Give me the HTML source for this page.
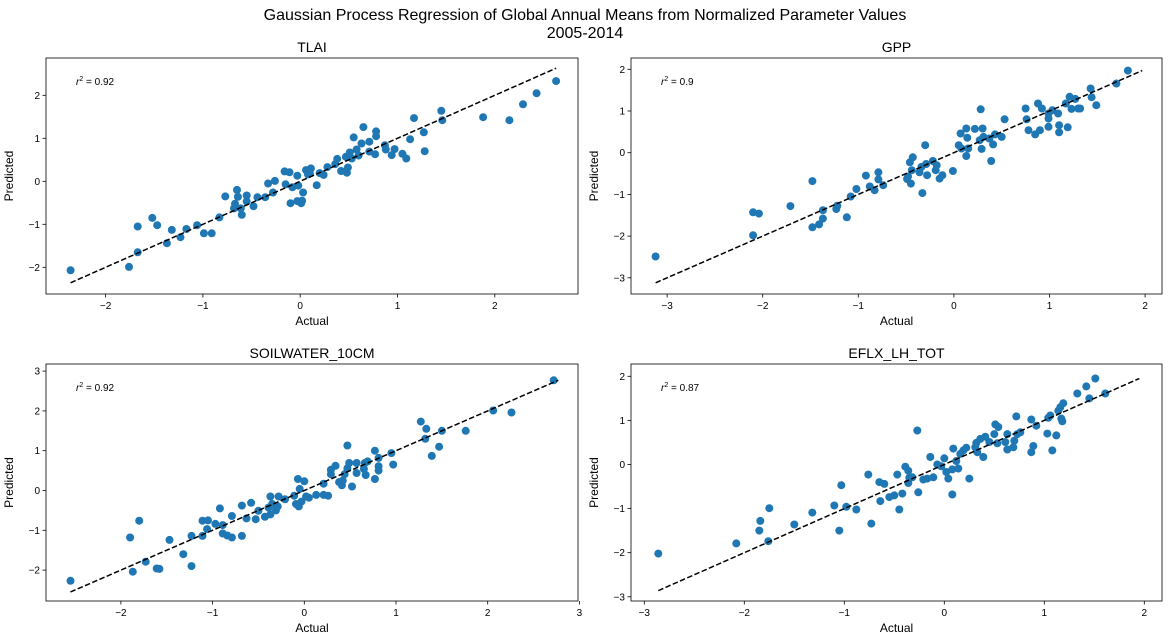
<!DOCTYPE html>
<html><head><meta charset="utf-8"><style>
html,body{margin:0;padding:0;background:#fff;}
svg{display:block;font-family:"Liberation Sans","DejaVu Sans",sans-serif;}
</style></head><body>
<svg id="fig" width="1169" height="642" viewBox="0 0 1169 642" xmlns="http://www.w3.org/2000/svg">
<text x="585" y="20" text-anchor="middle" font-size="16">Gaussian Process Regression of Global Annual Means from Normalized Parameter Values</text>
<text x="585" y="38" text-anchor="middle" font-size="16">2005-2014</text>
</svg>
<script>
const tlaiActual=[-2.36,-1.76,-1.67,-1.67,-1.52,-1.47,-1.37,-1.32,-1.23,-1.17,-1.06,-0.99,-0.91,-0.83,-0.77,-0.68,-0.67,-0.65,-0.64,-0.60,-0.61,-0.55,-0.55,-0.48,-0.44,-0.36,-0.33,-0.28,-0.26,-0.16,-0.11,-0.15,-0.10,-0.08,-0.03,-0.02,-0.03,0.01,0.02,0.03,0.06,0.08,0.11,0.10,0.17,0.20,0.24,0.28,0.36,0.38,0.42,0.48,0.49,0.47,0.51,0.53,0.55,0.58,0.60,0.63,0.65,0.71,0.71,0.77,0.78,0.78,0.87,0.88,0.94,0.97,1.05,1.09,1.13,1.17,1.27,1.28,1.45,1.46,1.88,2.15,2.29,2.43,2.63];
const tlaiPred=[-2.07,-1.99,-1.65,-1.05,-0.85,-1.02,-1.44,-1.13,-1.30,-1.11,-1.02,-1.21,-1.21,-0.84,-0.35,-0.63,-0.52,-0.20,-0.36,-0.78,-0.63,-0.33,-0.47,-0.58,-0.37,-0.37,-0.05,-0.26,0.01,0.23,0.21,-0.07,-0.51,-0.14,0.13,-0.10,-0.46,-0.51,-0.45,-0.26,0.26,0.16,0.30,0.18,-0.09,0.19,0.15,0.33,0.40,0.52,0.24,0.20,0.32,0.57,0.67,0.53,1.02,0.74,0.60,0.88,1.26,0.92,0.69,0.63,1.05,1.16,0.84,0.74,0.61,0.75,0.64,0.53,0.98,1.47,1.14,0.70,1.64,1.42,1.49,1.42,1.79,2.05,2.33];
const gppActual=[-3.12,-2.10,-2.10,-2.04,-1.71,-1.48,-1.48,-1.41,-1.37,-1.37,-1.23,-1.22,-1.12,-1.08,-1.02,-0.92,-0.88,-0.83,-0.79,-0.79,-0.74,-0.49,-0.48,-0.45,-0.46,-0.43,-0.44,-0.36,-0.34,-0.33,-0.30,-0.29,-0.28,-0.22,-0.19,-0.18,-0.15,-0.12,-0.01,0.05,0.07,0.08,0.13,0.13,0.14,0.15,0.22,0.28,0.27,0.29,0.30,0.31,0.37,0.39,0.41,0.43,0.50,0.53,0.75,0.76,0.78,0.85,0.88,0.90,0.92,0.99,0.99,0.99,1.03,1.09,1.10,1.10,1.17,1.19,1.21,1.23,1.27,1.30,1.32,1.43,1.44,1.49,1.70,1.82];
const gppPred=[-2.49,-1.98,-1.43,-1.46,-1.28,-0.68,-1.79,-1.72,-1.58,-1.38,-1.35,-1.27,-1.55,-1.05,-0.87,-0.55,-0.81,-0.90,-0.47,-0.64,-0.78,-0.63,-0.57,-0.74,-0.23,-0.11,-0.42,-0.47,-0.34,-0.97,0.18,-0.27,-0.54,-0.20,-0.42,-0.30,-0.62,-0.54,-0.44,0.18,0.46,0.10,-0.08,0.58,0.36,0.10,0.57,1.04,0.30,0.09,0.58,0.38,0.34,-0.20,0.20,0.44,0.38,0.80,1.06,0.80,0.54,0.44,1.18,0.54,1.06,0.82,0.94,0.62,1.02,0.94,0.66,0.49,1.18,0.61,1.34,1.05,1.29,1.06,1.06,1.54,1.33,1.14,1.66,1.97];
const soilActual=[-2.55,-1.90,-1.87,-1.80,-1.73,-1.61,-1.58,-1.47,-1.32,-1.23,-1.23,-1.11,-1.11,-1.06,-1.05,-0.97,-0.92,-0.89,-0.89,-0.84,-0.79,-0.79,-0.68,-0.68,-0.63,-0.58,-0.53,-0.50,-0.43,-0.39,-0.37,-0.37,-0.35,-0.31,-0.29,-0.28,-0.21,-0.11,-0.09,-0.07,-0.06,-0.05,-0.03,0.00,0.02,0.05,0.13,0.21,0.21,0.26,0.29,0.29,0.34,0.38,0.41,0.42,0.44,0.47,0.47,0.49,0.52,0.57,0.57,0.65,0.66,0.67,0.69,0.77,0.77,0.81,0.81,0.81,0.95,0.97,1.27,1.32,1.33,1.39,1.47,1.50,1.76,2.06,2.26,2.72];
const soilPred=[-2.27,-1.18,-2.04,-0.76,-1.79,-1.96,-1.97,-1.24,-1.60,-1.90,-1.14,-0.76,-1.14,-0.97,-0.75,-0.84,-0.45,-0.87,-1.08,-1.13,-0.64,-1.18,-0.38,-1.14,-0.70,-0.31,-0.72,-0.51,-0.66,-0.43,-0.15,-0.60,-0.34,-0.50,-0.40,-0.15,-0.22,-0.13,-0.34,0.29,-0.40,0.04,-0.28,0.23,-0.15,-0.18,-0.11,0.17,-0.11,-0.13,0.52,0.41,0.62,0.21,0.13,0.25,0.41,1.13,0.56,0.69,0.10,0.44,0.69,0.54,0.69,0.39,0.73,1.00,0.29,0.82,0.50,0.61,0.94,0.65,1.73,1.30,1.55,0.87,1.10,1.50,1.50,2.01,1.96,2.77];
const eflxActual=[-2.86,-2.08,-1.85,-1.84,-1.76,-1.75,-1.50,-1.32,-1.10,-1.05,-1.03,-0.98,-0.88,-0.76,-0.73,-0.65,-0.64,-0.60,-0.55,-0.50,-0.47,-0.45,-0.42,-0.39,-0.36,-0.36,-0.35,-0.32,-0.27,-0.26,-0.21,-0.17,-0.14,-0.11,-0.07,-0.03,0.00,0.02,0.04,0.08,0.08,0.09,0.12,0.14,0.16,0.19,0.22,0.25,0.31,0.32,0.33,0.36,0.39,0.41,0.45,0.50,0.51,0.54,0.53,0.61,0.63,0.63,0.69,0.70,0.72,0.73,0.76,0.87,0.87,0.89,0.92,1.03,1.04,1.06,1.08,1.12,1.14,1.16,1.17,1.18,1.19,1.33,1.42,1.45,1.51,1.61];
const eflxPred=[-2.02,-1.79,-1.50,-1.28,-1.74,-0.99,-1.36,-1.09,-0.93,-1.50,-0.47,-0.96,-1.02,-0.23,-1.34,-0.40,-0.83,-0.44,-0.74,-0.70,-0.23,-1.02,-0.66,-0.05,-0.14,-0.42,-0.30,-0.29,0.77,-0.63,-0.34,-0.32,0.17,-0.29,0.00,-0.04,0.14,-0.17,-0.32,-0.11,-0.68,0.36,0.08,-0.09,0.24,0.32,0.38,-0.32,0.39,0.49,0.28,0.58,0.17,0.63,0.51,0.69,0.91,0.85,0.48,0.51,0.69,0.34,0.39,0.54,1.09,0.69,0.73,1.02,0.28,0.42,0.88,0.70,1.06,1.11,0.32,0.66,1.22,1.30,1.04,0.98,1.39,1.61,1.77,1.50,1.95,1.61];
const panelTitles=["TLAI","GPP","SOILWATER_10CM","EFLX_LH_TOT"];
const r2Labels=["0.92","0.9","0.92","0.87"];
const xTicks=[[-2,-1,0,1,2],[-3,-2,-1,0,1,2],[-2,-1,0,1,2,3],[-3,-2,-1,0,1,2]];
const yTicks=[[-2,-1,0,1,2],[-3,-2,-1,0,1,2],[-2,-1,0,1,2,3],[-3,-2,-1,0,1,2]];

const NS="http://www.w3.org/2000/svg";
const svg=document.getElementById('fig');
const layouts=[
 {l:46,r:578,t:58,b:294,x0:300.2,xu:97.3,y0:181.3,yu:43.0},
 {l:631,r:1162,t:58,b:294,x0:953.9,xu:95.6,y0:152.7,yu:41.7},
 {l:46,r:578,t:364,b:601,x0:304.3,xu:91.7,y0:490.5,yu:39.8},
 {l:631,r:1162,t:364,b:601,x0:944.3,xu:100,y0:464.5,yu:44.1}
];
const datasets=[[tlaiActual,tlaiPred],[gppActual,gppPred],[soilActual,soilPred],[eflxActual,eflxPred]];
const keys=["tlai","gpp","soilwater","eflx"];
function mk(tag,attrs,parent){const e=document.createElementNS(NS,tag);for(const k in attrs)e.setAttribute(k,attrs[k]);(parent||svg).appendChild(e);return e;}
layouts.forEach((L,i)=>{
 const g=mk('g',{});
 
 
 const xs=v=>L.x0+v*L.xu, ys=v=>L.y0-v*L.yu;
 const [act,pred]=datasets[i];
 const lo=Math.min(...act,...pred), hi=Math.max(...act,...pred);
 const pts=mk('g',{fill:'#1f77b4'},g);
 
 
 act.forEach((a,j)=>{
  const c=mk('circle',{cx:xs(a).toFixed(1),cy:ys(pred[j]).toFixed(1),r:4},pts);
  
  
 });
 const ln=mk('line',{x1:xs(lo),y1:ys(lo),x2:xs(hi),y2:ys(hi),stroke:'#000','stroke-width':1.5,'stroke-dasharray':'5.5,2.4'},g);
 
 
 const fr=mk('rect',{x:L.l,y:L.t,width:L.r-L.l,height:L.b-L.t,fill:'none',stroke:'#000','stroke-width':0.8},g);
 
 
 xTicks[i].forEach(v=>{
  const x=xs(v);
  mk('line',{x1:x,y1:L.b,x2:x,y2:L.b+3.5,stroke:'#000','stroke-width':0.8},g);
  const t=mk('text',{x:x,y:L.b+15,'text-anchor':'middle','font-size':10},g);
  t.textContent=v<0?'\u2212'+(-v):String(v);
  
  
 });
 yTicks[i].forEach(v=>{
  const y=ys(v);
  mk('line',{x1:L.l-3.5,y1:y,x2:L.l,y2:y,stroke:'#000','stroke-width':0.8},g);
  const t=mk('text',{x:L.l-6,y:y+3.5,'text-anchor':'end','font-size':10},g);
  t.textContent=v<0?'\u2212'+(-v):String(v);
  
  
 });
 const tt=mk('text',{x:(L.l+L.r)/2,y:L.t-6,'text-anchor':'middle','font-size':14},g);
 tt.textContent=panelTitles[i];
 
 
 const xl=mk('text',{x:(L.l+L.r)/2,y:L.b+31,'text-anchor':'middle','font-size':12},g);
 xl.textContent='Actual';
 
 
 const yc=(L.t+L.b)/2, yx=L.l-33;
 const yl=mk('text',{x:yx,y:yc,'text-anchor':'middle','font-size':12,transform:`rotate(-90 ${yx} ${yc})`},g);
 yl.textContent='Predicted';
 
 
 const r2=mk('text',{x:L.l+30,y:L.t+27,'font-size':10},g);
 r2.innerHTML='<tspan font-style="italic">r</tspan><tspan dy="-4" font-size="7">2</tspan><tspan dy="4"> = '+r2Labels[i]+'</tspan>';
 
 
});
</script>
</body></html>
